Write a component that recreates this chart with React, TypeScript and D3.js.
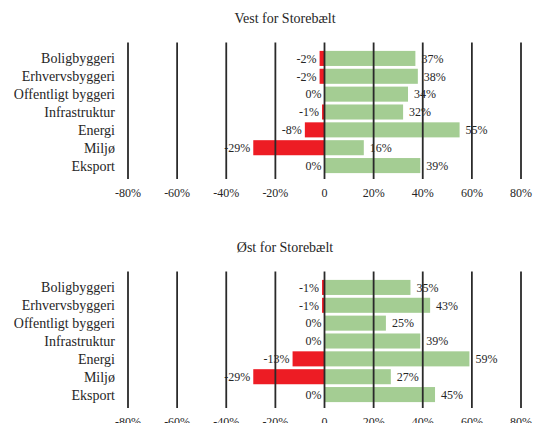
import React from "react";
import * as d3 from "d3";

const categories = [
  "Boligbyggeri",
  "Erhvervsbyggeri",
  "Offentligt byggeri",
  "Infrastruktur",
  "Energi",
  "Miljø",
  "Eksport",
];
const westPositive = [37, 38, 34, 32, 55, 16, 39];
const westNegative = [-2, -2, 0, -1, -8, -29, 0];
const eastPositive = [35, 43, 25, 39, 59, 27, 45];
const eastNegative = [-1, -1, 0, 0, -13, -29, 0];
const tickValues = [-80, -60, -40, -20, 0, 20, 40, 60, 80];
const panelTitles = ["Vest for Storebælt", "Øst for Storebælt"];

const W = 544;
const H = 423;
const FONT = "'Liberation Serif', 'Times New Roman', serif";
const RED = "#ED1C24";
const GREEN = "#A4CD93";
const GRID = "#2a2a2a";
const TEXT = "#262626";

const x = d3.scaleLinear().domain([-80, 80]).range([128, 521]);
const y = d3
  .scaleBand<string>()
  .domain(categories)
  .range([49.5, 174.5])
  .paddingInner(0.157)
  .paddingOuter(0.0785);

const fmtTick = (v: number) => (v === 0 ? "0" : `${v}%`);

function Panel({
  title,
  pos,
  neg,
  offset,
}: {
  title: string;
  pos: number[];
  neg: number[];
  offset: number;
}) {
  const bw = y.bandwidth();
  return (
    <g transform={`translate(0,${offset})`}>
      <text x={285} y={23} textAnchor="middle" fontSize={14} fill={TEXT}>
        {title}
      </text>
      {categories.map((c) => (
        <text
          key={"c" + c}
          x={115}
          y={(y(c) as number) + bw / 2 + 5}
          textAnchor="end"
          fontSize={14}
          fill={TEXT}
        >
          {c}
        </text>
      ))}
      {categories.map((c, i) =>
        neg[i] < 0 ? (
          <rect
            key={"n" + c}
            x={x(neg[i])}
            y={y(c) as number}
            width={x(0) - x(neg[i])}
            height={bw}
            fill={RED}
          />
        ) : null
      )}
      {categories.map((c, i) => (
        <rect
          key={"p" + c}
          x={x(0)}
          y={y(c) as number}
          width={x(pos[i]) - x(0)}
          height={bw}
          fill={GREEN}
        />
      ))}
      {tickValues.map((t) => (
        <line
          key={"g" + t}
          x1={x(t)}
          x2={x(t)}
          y1={42.5}
          y2={179}
          stroke={GRID}
          strokeWidth={1.8}
        />
      ))}
      {tickValues.map((t) => (
        <text
          key={"t" + t}
          x={x(t)}
          y={197}
          textAnchor="middle"
          fontSize={12}
          fill={TEXT}
        >
          {fmtTick(t)}
        </text>
      ))}
      {categories.map((c, i) => (
        <text
          key={"nl" + c}
          x={x(Math.min(neg[i], 0)) - 3}
          y={(y(c) as number) + bw / 2 + 4.3}
          textAnchor="end"
          fontSize={12}
          fill={TEXT}
        >
          {`${neg[i]}%`}
        </text>
      ))}
      {categories.map((c, i) => (
        <text
          key={"pl" + c}
          x={x(pos[i]) + 6}
          y={(y(c) as number) + bw / 2 + 4.3}
          textAnchor="start"
          fontSize={12}
          fill={TEXT}
        >
          {`${pos[i]}%`}
        </text>
      ))}
    </g>
  );
}

export default function App() {
  return (
    <svg
      width={W}
      height={H}
      style={{ position: "absolute", left: 0, top: 0, background: "#fff" }}
      fontFamily={FONT}
    >
      <rect x={0} y={0} width={W} height={H} fill="#fff" />
      <Panel title={panelTitles[0]} pos={westPositive} neg={westNegative} offset={0} />
      <Panel title={panelTitles[1]} pos={eastPositive} neg={eastNegative} offset={229} />
    </svg>
  );
}
